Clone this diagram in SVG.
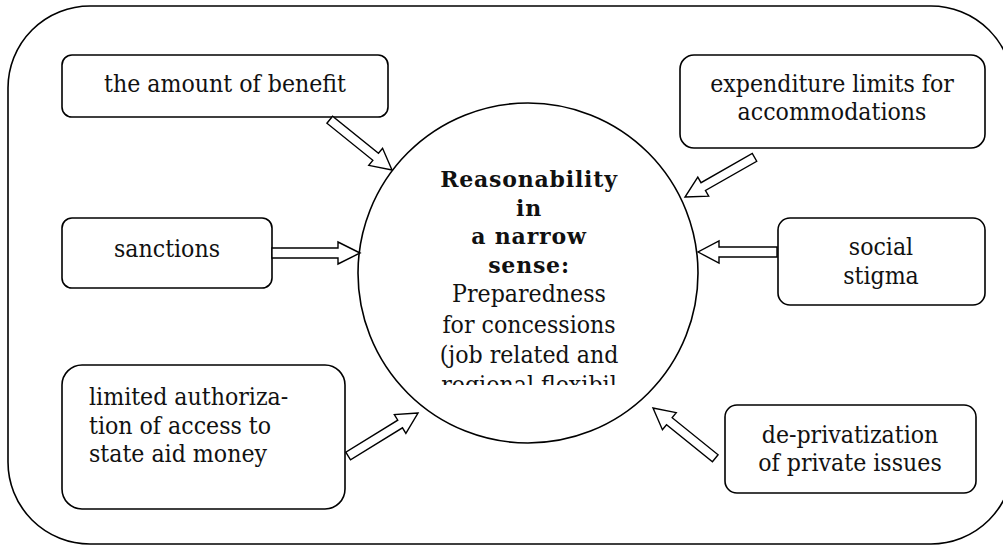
<svg xmlns="http://www.w3.org/2000/svg" width="1003" height="545" viewBox="0 0 1003 545">
<style>
.box{fill:#fff;stroke:#000;stroke-width:1.6}
.t{font-family:"DejaVu Serif Condensed","DejaVu Serif",serif;font-stretch:condensed;font-size:24.6px;fill:#111}
.c{text-anchor:middle}
.b{font-family:"DejaVu Serif",serif;font-stretch:normal;font-weight:bold;font-size:22px;letter-spacing:0.8px}
.arr{fill:#fff;stroke:#000;stroke-width:1.4;stroke-linejoin:miter}
</style>
<defs>
<clipPath id="circClip"><rect x="350" y="100" width="360" height="285"/></clipPath>
</defs>
<rect x="8" y="6" width="1005" height="538" rx="82" ry="82" fill="#fff" stroke="#000" stroke-width="1.6"/>
<g id="center">
<circle cx="528" cy="273" r="170" class="box"/>
<g clip-path="url(#circClip)">
<text class="t c b" x="529"><tspan x="529" y="187">Reasonability</tspan><tspan x="529" y="216">in</tspan><tspan x="529" y="244">a narrow</tspan><tspan x="529" y="273">sense:</tspan></text>
<text class="t c" x="529"><tspan x="529" y="302">Preparedness</tspan><tspan x="529" y="333">for concessions</tspan><tspan x="529" y="363">(job related and</tspan><tspan x="529" y="393">regional flexibil</tspan></text>
</g>
</g>
<g id="n-benefit">
<rect x="62" y="55" width="326" height="62" rx="10" class="box"/>
<text class="t c" x="225" y="92">the amount of benefit</text>
</g>
<g id="n-sanctions">
<rect x="62" y="218" width="210" height="70" rx="10" class="box"/>
<text class="t c" x="167" y="257">sanctions</text>
</g>
<g id="n-limited">
<rect x="62" y="365" width="283" height="144" rx="20" class="box"/>
<text class="t"><tspan x="89" y="405">limited authoriza-</tspan><tspan x="89" y="434">tion of access to</tspan><tspan x="89" y="462">state aid money</tspan></text>
</g>
<g id="n-expenditure">
<rect x="680" y="55" width="305" height="93" rx="14" class="box"/>
<text class="t c"><tspan x="832" y="92">expenditure limits for</tspan><tspan x="832" y="120">accommodations</tspan></text>
</g>
<g id="n-stigma">
<rect x="778" y="218" width="207" height="87" rx="12" class="box"/>
<text class="t c"><tspan x="881" y="255">social</tspan><tspan x="881" y="284">stigma</tspan></text>
</g>
<g id="n-depriv">
<rect x="725" y="405" width="251" height="88" rx="12" class="box"/>
<text class="t c"><tspan x="850" y="443">de-privatization</tspan><tspan x="850" y="471">of private issues</tspan></text>
</g>
<g id="connectors">
<path class="arr" transform="translate(392,170) rotate(38.9)" d="M0,0 L-21,-11 L-21,-4.5 L-80,-4.5 L-80,4.5 L-21,4.5 L-21,11 Z"/>
<path class="arr" transform="translate(360,253) rotate(0)" d="M0,0 L-22,-11 L-22,-5 L-88,-5 L-88,5 L-22,5 L-22,11 Z"/>
<path class="arr" transform="translate(418,413) rotate(-31.6)" d="M0,0 L-21,-11 L-21,-4.5 L-82,-4.5 L-82,4.5 L-21,4.5 L-21,11 Z"/>
<path class="arr" transform="translate(685,197) rotate(150.3)" d="M0,0 L-21,-11 L-21,-4.5 L-80,-4.5 L-80,4.5 L-21,4.5 L-21,11 Z"/>
<path class="arr" transform="translate(698,252) rotate(180)" d="M0,0 L-21,-11 L-21,-5 L-79,-5 L-79,5 L-21,5 L-21,11 Z"/>
<path class="arr" transform="translate(653,408) rotate(-141.1)" d="M0,0 L-21,-11 L-21,-4.5 L-80,-4.5 L-80,4.5 L-21,4.5 L-21,11 Z"/>
</g>
</svg>
